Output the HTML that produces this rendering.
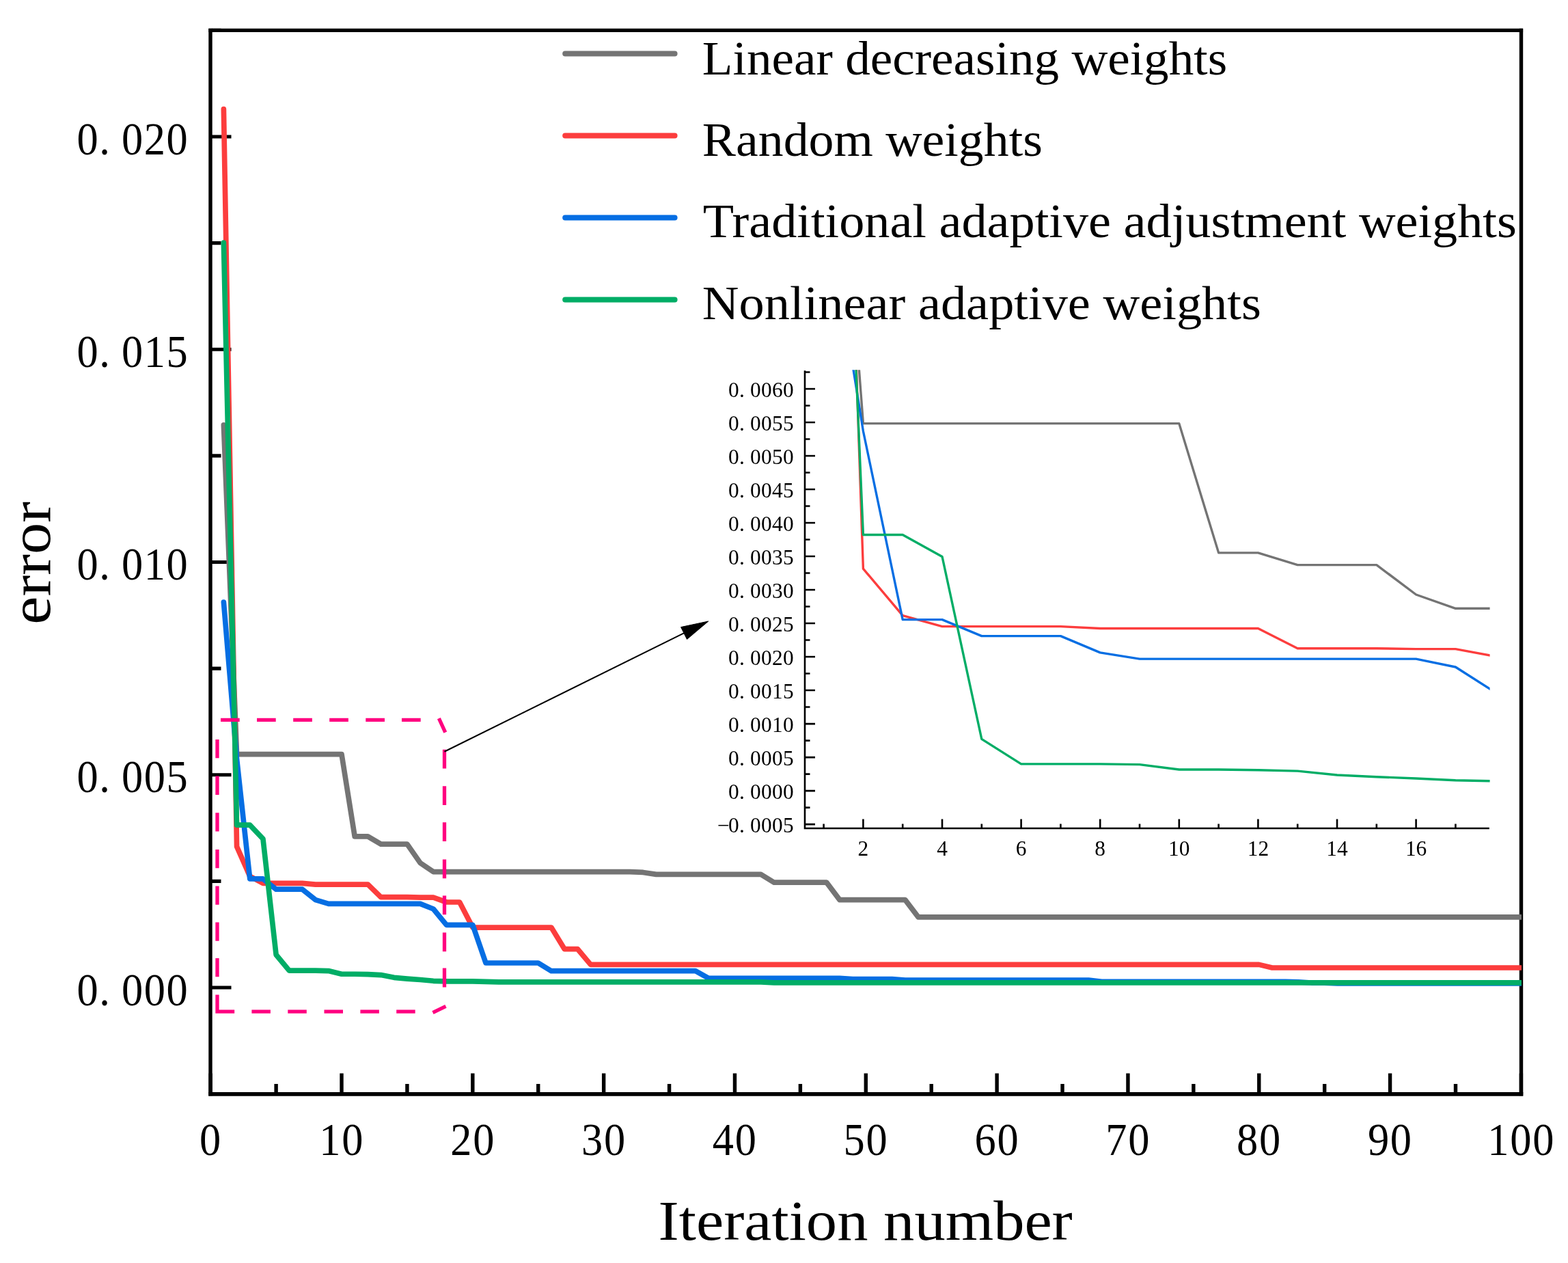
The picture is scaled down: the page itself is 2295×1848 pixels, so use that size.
<!DOCTYPE html><html><head><meta charset="utf-8"><title>Error vs iteration</title>
<style>html,body{margin:0;padding:0;background:#fff;}svg{display:block;}text{font-family:"Liberation Serif","Noto Serif CJK SC",serif;fill:#000;}</style></head><body>
<svg width="2295" height="1848" viewBox="0 0 2295 1848">
<rect x="0" y="0" width="2295" height="1848" fill="#fff"/>
<defs><clipPath id="cm"><rect x="300" y="20" width="1927" height="1580"/></clipPath><clipPath id="ci"><rect x="1178" y="541.2" width="1002.6" height="671"/></clipPath></defs>
<path d="M308,44.4 H2226.5" stroke="#000" stroke-width="5.2" fill="none" stroke-linecap="square"/><path d="M308,1600.9 H2226.5" stroke="#000" stroke-width="5.6" fill="none" stroke-linecap="square"/><path d="M308,44.4 V1600.6 M2226.5,44.4 V1600.6" stroke="#000" stroke-width="5.4" fill="none" stroke-linecap="square"/><path d="M310,1445.00H338.5M310,1133.75H338.5M310,822.50H338.5M310,511.25H338.5M310,200.00H338.5M310,1289.38H323.5M310,978.12H323.5M310,666.88H323.5M310,355.62H323.5M310,44.38H323.5" stroke="#000" stroke-width="5.2" fill="none"/><path d="M308.20,1600V1570.5M500.02,1600V1570.5M691.84,1600V1570.5M883.66,1600V1570.5M1075.48,1600V1570.5M1267.30,1600V1570.5M1459.12,1600V1570.5M1650.94,1600V1570.5M1842.76,1600V1570.5M2034.58,1600V1570.5M2226.40,1600V1570.5M404.11,1600V1586M595.93,1600V1586M787.75,1600V1586M979.57,1600V1586M1171.39,1600V1586M1363.21,1600V1586M1555.03,1600V1586M1746.85,1600V1586M1938.67,1600V1586M2130.49,1600V1586" stroke="#000" stroke-width="5.4" fill="none"/>
<g clip-path="url(#cm)" fill="none" stroke-width="7.7" stroke-linejoin="round" stroke-linecap="round">
<polyline stroke="#747474" points="327.38,621.93 346.56,1103.68 365.75,1103.68 384.93,1103.68 404.11,1103.68 423.29,1103.68 442.47,1103.68 461.66,1103.68 480.84,1103.68 500.02,1103.68 519.20,1223.83 538.38,1223.83 557.57,1235.09 576.75,1235.09 595.93,1235.09 615.11,1262.67 634.29,1275.56 653.48,1275.56 672.66,1275.56 691.84,1275.56 711.02,1275.56 730.20,1275.56 749.39,1275.56 768.57,1275.56 787.75,1275.56 806.93,1275.56 826.11,1275.56 845.30,1275.56 864.48,1275.56 883.66,1275.56 902.84,1275.56 922.02,1275.56 941.21,1276.43 960.39,1279.41 979.57,1279.41 998.75,1279.41 1017.93,1279.41 1037.12,1279.41 1056.30,1279.41 1075.48,1279.41 1094.66,1279.41 1113.84,1279.41 1133.03,1291.18 1152.21,1291.18 1171.39,1291.18 1190.57,1291.18 1209.75,1291.18 1228.94,1316.58 1248.12,1316.58 1267.30,1316.58 1286.48,1316.58 1305.66,1316.58 1324.85,1316.58 1344.03,1341.91 1363.21,1341.91 1382.39,1341.91 1401.57,1341.91 1420.76,1341.91 1439.94,1341.91 1459.12,1341.91 1478.30,1341.91 1497.48,1341.91 1516.67,1341.91 1535.85,1341.91 1555.03,1341.91 1574.21,1341.91 1593.39,1341.91 1612.58,1341.91 1631.76,1341.91 1650.94,1341.91 1670.12,1341.91 1689.30,1341.91 1708.49,1341.91 1727.67,1341.91 1746.85,1341.91 1766.03,1341.91 1785.21,1341.91 1804.40,1341.91 1823.58,1341.91 1842.76,1341.91 1861.94,1341.91 1881.12,1341.91 1900.31,1341.91 1919.49,1341.91 1938.67,1341.91 1957.85,1341.91 1977.03,1341.91 1996.22,1341.91 2015.40,1341.91 2034.58,1341.91 2053.76,1341.91 2072.94,1341.91 2092.13,1341.91 2111.31,1341.91 2130.49,1341.91 2149.67,1341.91 2168.85,1341.91 2188.04,1341.91 2207.22,1341.91 2226.40,1341.91"/>
<polyline stroke="#FC3D3D" points="327.38,159.60 346.56,1238.64 365.75,1282.09 384.93,1292.30 404.11,1292.30 423.29,1292.30 442.47,1292.30 461.66,1294.11 480.84,1294.11 500.02,1294.11 519.20,1294.11 538.38,1294.11 557.57,1312.72 576.75,1312.72 595.93,1312.72 615.11,1313.22 634.29,1313.22 653.48,1320.00 672.66,1320.00 691.84,1357.10 711.02,1357.10 730.20,1357.10 749.39,1357.10 768.57,1357.10 787.75,1357.10 806.93,1357.10 826.11,1388.60 845.30,1388.60 864.48,1411.38 883.66,1411.38 902.84,1411.38 922.02,1411.38 941.21,1411.38 960.39,1411.38 979.57,1411.38 998.75,1411.38 1017.93,1411.38 1037.12,1411.38 1056.30,1411.38 1075.48,1411.38 1094.66,1411.38 1113.84,1411.38 1133.03,1411.38 1152.21,1411.38 1171.39,1411.38 1190.57,1411.38 1209.75,1411.38 1228.94,1411.38 1248.12,1411.38 1267.30,1411.38 1286.48,1411.38 1305.66,1411.38 1324.85,1411.38 1344.03,1411.38 1363.21,1411.38 1382.39,1411.38 1401.57,1411.38 1420.76,1411.38 1439.94,1411.38 1459.12,1411.38 1478.30,1411.38 1497.48,1411.38 1516.67,1411.38 1535.85,1411.38 1555.03,1411.38 1574.21,1411.38 1593.39,1411.38 1612.58,1411.38 1631.76,1411.38 1650.94,1411.38 1670.12,1411.38 1689.30,1411.38 1708.49,1411.38 1727.67,1411.38 1746.85,1411.38 1766.03,1411.38 1785.21,1411.38 1804.40,1411.38 1823.58,1411.38 1842.76,1411.38 1861.94,1415.99 1881.12,1415.99 1900.31,1415.99 1919.49,1415.99 1938.67,1415.99 1957.85,1415.99 1977.03,1415.99 1996.22,1415.99 2015.40,1415.99 2034.58,1415.99 2053.76,1415.99 2072.94,1415.99 2092.13,1415.99 2111.31,1415.99 2130.49,1415.99 2149.67,1415.99 2168.85,1415.99 2188.04,1415.99 2207.22,1415.99 2226.40,1415.99"/>
<polyline stroke="#066EE3" points="327.38,881.01 346.56,1110.72 365.75,1285.95 384.93,1285.95 404.11,1301.20 423.29,1301.20 442.47,1301.20 461.66,1316.58 480.84,1322.43 500.02,1322.43 519.20,1322.43 538.38,1322.43 557.57,1322.43 576.75,1322.43 595.93,1322.43 615.11,1322.43 634.29,1329.96 653.48,1353.37 672.66,1353.37 691.84,1353.37 711.02,1409.02 730.20,1409.02 749.39,1409.02 768.57,1409.02 787.75,1409.02 806.93,1420.72 826.11,1420.72 845.30,1420.72 864.48,1420.72 883.66,1420.72 902.84,1420.72 922.02,1420.72 941.21,1420.72 960.39,1420.72 979.57,1420.72 998.75,1420.72 1017.93,1420.72 1037.12,1431.43 1056.30,1431.43 1075.48,1431.43 1094.66,1431.43 1113.84,1431.43 1133.03,1431.43 1152.21,1431.43 1171.39,1431.43 1190.57,1431.43 1209.75,1431.43 1228.94,1431.43 1248.12,1432.61 1267.30,1432.61 1286.48,1432.61 1305.66,1432.61 1324.85,1434.11 1344.03,1434.11 1363.21,1434.11 1382.39,1434.11 1401.57,1434.11 1420.76,1434.11 1439.94,1434.11 1459.12,1434.11 1478.30,1434.11 1497.48,1434.11 1516.67,1434.11 1535.85,1434.11 1555.03,1434.11 1574.21,1434.11 1593.39,1434.11 1612.58,1436.29 1631.76,1436.29 1650.94,1436.29 1670.12,1436.29 1689.30,1436.29 1708.49,1436.29 1727.67,1436.29 1746.85,1436.29 1766.03,1436.29 1785.21,1436.29 1804.40,1436.29 1823.58,1436.29 1842.76,1436.29 1861.94,1436.29 1881.12,1436.29 1900.31,1436.91 1919.49,1438.03 1938.67,1438.03 1957.85,1438.78 1977.03,1438.78 1996.22,1438.78 2015.40,1438.78 2034.58,1438.78 2053.76,1438.78 2072.94,1438.78 2092.13,1438.78 2111.31,1438.78 2130.49,1438.78 2149.67,1438.78 2168.85,1438.78 2188.04,1438.78 2207.22,1438.78 2226.40,1438.78"/>
<polyline stroke="#00AD66" points="327.38,355.19 346.56,1207.08 365.75,1207.08 384.93,1227.37 404.11,1396.94 423.29,1420.10 442.47,1420.10 461.66,1420.10 480.84,1420.54 500.02,1425.27 519.20,1425.27 538.38,1425.70 557.57,1426.57 576.75,1430.31 595.93,1432.05 615.11,1433.48 634.29,1435.29 653.48,1435.97 672.66,1435.97 691.84,1435.97 711.02,1436.47 730.20,1436.97 749.39,1436.97 768.57,1436.97 787.75,1436.97 806.93,1436.97 826.11,1436.97 845.30,1436.97 864.48,1436.97 883.66,1436.97 902.84,1436.97 922.02,1436.97 941.21,1436.97 960.39,1436.97 979.57,1436.97 998.75,1436.97 1017.93,1436.97 1037.12,1436.97 1056.30,1436.97 1075.48,1436.97 1094.66,1436.97 1113.84,1436.97 1133.03,1437.84 1152.21,1437.84 1171.39,1437.84 1190.57,1437.84 1209.75,1437.84 1228.94,1437.84 1248.12,1437.84 1267.30,1437.84 1286.48,1437.84 1305.66,1437.84 1324.85,1437.84 1344.03,1437.84 1363.21,1437.84 1382.39,1437.84 1401.57,1437.84 1420.76,1437.84 1439.94,1437.84 1459.12,1437.84 1478.30,1437.84 1497.48,1437.84 1516.67,1437.84 1535.85,1437.84 1555.03,1437.84 1574.21,1437.84 1593.39,1437.84 1612.58,1437.84 1631.76,1437.84 1650.94,1437.84 1670.12,1437.84 1689.30,1437.84 1708.49,1437.84 1727.67,1437.84 1746.85,1437.84 1766.03,1437.84 1785.21,1437.84 1804.40,1437.84 1823.58,1437.84 1842.76,1437.84 1861.94,1437.84 1881.12,1437.84 1900.31,1437.84 1919.49,1437.84 1938.67,1437.84 1957.85,1437.84 1977.03,1437.84 1996.22,1437.84 2015.40,1437.84 2034.58,1437.84 2053.76,1437.84 2072.94,1437.84 2092.13,1437.84 2111.31,1437.84 2130.49,1437.84 2149.67,1437.84 2168.85,1437.84 2188.04,1437.84 2207.22,1437.84 2226.40,1437.84"/>
</g>
<text transform="translate(112.43,1470.60) scale(0.935,1)" x="0.00 35.08 70.16 105.24 140.32" y="0" font-size="66.80">0.000</text>
<text transform="translate(112.43,1159.35) scale(0.935,1)" x="0.00 35.08 70.16 105.24 140.32" y="0" font-size="66.80">0.005</text>
<text transform="translate(112.43,848.10) scale(0.935,1)" x="0.00 35.08 70.16 105.24 140.32" y="0" font-size="66.80">0.010</text>
<text transform="translate(112.43,536.85) scale(0.935,1)" x="0.00 35.08 70.16 105.24 140.32" y="0" font-size="66.80">0.015</text>
<text transform="translate(112.43,225.60) scale(0.935,1)" x="0.00 35.08 70.16 105.24 140.32" y="0" font-size="66.80">0.020</text>
<text transform="translate(292.00,1690.00) scale(0.935,1)" x="0.00" y="0" font-size="66.80">0</text>
<text transform="translate(467.32,1690.00) scale(0.935,1)" x="0.00 35.29" y="0" font-size="66.80">10</text>
<text transform="translate(659.14,1690.00) scale(0.935,1)" x="0.00 35.29" y="0" font-size="66.80">20</text>
<text transform="translate(850.96,1690.00) scale(0.935,1)" x="0.00 35.29" y="0" font-size="66.80">30</text>
<text transform="translate(1042.78,1690.00) scale(0.935,1)" x="0.00 35.29" y="0" font-size="66.80">40</text>
<text transform="translate(1234.60,1690.00) scale(0.935,1)" x="0.00 35.29" y="0" font-size="66.80">50</text>
<text transform="translate(1426.42,1690.00) scale(0.935,1)" x="0.00 35.29" y="0" font-size="66.80">60</text>
<text transform="translate(1618.24,1690.00) scale(0.935,1)" x="0.00 35.29" y="0" font-size="66.80">70</text>
<text transform="translate(1810.06,1690.00) scale(0.935,1)" x="0.00 35.29" y="0" font-size="66.80">80</text>
<text transform="translate(2001.88,1690.00) scale(0.935,1)" x="0.00 35.29" y="0" font-size="66.80">90</text>
<text transform="translate(2177.20,1690.00) scale(0.935,1)" x="0.00 35.29 70.59" y="0" font-size="66.80">100</text>
<text x="963.63" y="1814.30" font-size="83.50" textLength="606.17" lengthAdjust="spacingAndGlyphs">Iteration number</text>
<g transform="translate(73.3,0) rotate(-90)"><text x="-913.72" y="0.00" font-size="84.00" textLength="179.93" lengthAdjust="spacingAndGlyphs">error</text></g>
<line x1="827.2" y1="78.50" x2="987.6" y2="78.50" stroke="#747474" stroke-width="8" stroke-linecap="round"/>
<text x="1027.89" y="108.80" font-size="69.50" textLength="768.25" lengthAdjust="spacingAndGlyphs">Linear decreasing weights</text>
<line x1="827.2" y1="198.50" x2="987.6" y2="198.50" stroke="#FC3D3D" stroke-width="8" stroke-linecap="round"/>
<text x="1027.77" y="228.40" font-size="69.50" textLength="498.09" lengthAdjust="spacingAndGlyphs">Random weights</text>
<line x1="827.2" y1="318.50" x2="987.6" y2="318.50" stroke="#066EE3" stroke-width="8" stroke-linecap="round"/>
<text x="1028.76" y="347.20" font-size="69.50" textLength="1191.11" lengthAdjust="spacingAndGlyphs">Traditional adaptive adjustment weights</text>
<line x1="827.2" y1="438.50" x2="987.6" y2="438.50" stroke="#00AD66" stroke-width="8" stroke-linecap="round"/>
<text x="1027.86" y="467.00" font-size="69.50" textLength="818.03" lengthAdjust="spacingAndGlyphs">Nonlinear adaptive weights</text>
<path d="M323.00,1053.45L350.70,1053.45M376.00,1053.45L403.70,1053.45M429.20,1053.45L456.90,1053.45M482.20,1053.45L509.90,1053.45M535.30,1053.45L563.00,1053.45M588.00,1053.45L615.70,1053.45M642.40,1051.10L651.80,1071.60M650.50,1096.70L650.50,1124.50M650.50,1150.20L650.50,1178.00M650.50,1203.20L650.50,1231.00M650.50,1257.40L650.50,1285.20M650.50,1310.40L650.50,1338.20M650.50,1364.50L650.50,1392.30M650.50,1416.60L650.50,1444.40M652.50,1472.30L633.50,1481.60M368.40,1480.20L395.90,1480.20M421.30,1480.20L448.80,1480.20M474.50,1480.20L502.00,1480.20M527.40,1480.20L554.90,1480.20M580.20,1480.20L607.70,1480.20M318.00,1082.00L318.00,1109.30M318.00,1135.60L318.00,1162.90M318.00,1189.20L318.00,1216.50M318.00,1243.00L318.00,1270.30M318.00,1296.50L318.00,1323.80M318.00,1349.50L318.00,1376.80M318.00,1402.00L318.00,1429.30M318,1455.5V1480.2H343.2" stroke="#FF0080" stroke-width="5.30" fill="none" stroke-linejoin="miter"/>
<line x1="650.5" y1="1099.8" x2="1001" y2="926.4" stroke="#000" stroke-width="2.1"/>
<polygon points="1036.8,909 996.6,917.6 1005.5,935.4" fill="#000" stroke="#000" stroke-width="1" stroke-linejoin="round"/>
<g clip-path="url(#ci)" fill="none" stroke-width="3.4" stroke-linejoin="round" stroke-linecap="butt">
<polyline stroke="#747474" points="1205.60,-138.92 1263.40,619.66 1321.20,619.66 1379.00,619.66 1436.80,619.66 1494.60,619.66 1552.40,619.66 1610.20,619.66 1668.00,619.66 1725.80,619.66 1783.60,808.83 1841.40,808.83 1899.20,826.58 1957.00,826.58 2014.80,826.58 2072.60,870.00 2130.40,890.29 2188.20,890.29 2246.00,890.29"/>
<polyline stroke="#FC3D3D" points="1205.60,-866.91 1263.40,832.16 1321.20,900.58 1379.00,916.66 1436.80,916.66 1494.60,916.66 1552.40,916.66 1610.20,919.50 1668.00,919.50 1725.80,919.50 1783.60,919.50 1841.40,919.50 1899.20,948.81 1957.00,948.81 2014.80,948.81 2072.60,949.59 2130.40,949.59 2188.20,960.28 2246.00,960.28"/>
<polyline stroke="#066EE3" points="1205.60,269.04 1263.40,630.73 1321.20,906.66 1379.00,906.66 1436.80,930.67 1494.60,930.67 1552.40,930.67 1610.20,954.88 1668.00,964.10 1725.80,964.10 1783.60,964.10 1841.40,964.10 1899.20,964.10 1957.00,964.10 2014.80,964.10 2072.60,964.10 2130.40,975.96 2188.20,1012.81 2246.00,1012.81"/>
<polyline stroke="#00AD66" points="1205.60,-558.94 1263.40,782.47 1321.20,782.47 1379.00,814.42 1436.80,1081.43 1494.60,1117.89 1552.40,1117.89 1610.20,1117.89 1668.00,1118.58 1725.80,1126.03 1783.60,1126.03 1841.40,1126.71 1899.20,1128.09 1957.00,1133.97 2014.80,1136.71 2072.60,1138.97 2130.40,1141.81 2188.20,1142.89 2246.00,1142.89"/>
</g>
<path d="M1178,542.3V1212H2179.8" stroke="#000" stroke-width="2.6" fill="none" stroke-linecap="butt"/><path d="M1178,1206.11H1193M1178,1157.10H1193M1178,1108.09H1193M1178,1059.08H1193M1178,1010.07H1193M1178,961.06H1193M1178,912.05H1193M1178,863.04H1193M1178,814.03H1193M1178,765.02H1193M1178,716.01H1193M1178,667.00H1193M1178,617.99H1193M1178,568.98H1193M1178,1181.61H1185.5M1178,1132.59H1185.5M1178,1083.58H1185.5M1178,1034.57H1185.5M1178,985.56H1185.5M1178,936.55H1185.5M1178,887.54H1185.5M1178,838.53H1185.5M1178,789.52H1185.5M1178,740.51H1185.5M1178,691.50H1185.5M1178,642.49H1185.5M1178,593.48H1185.5M1178,544.47H1185.5M1263.40,1212V1198.5M1379.00,1212V1198.5M1494.60,1212V1198.5M1610.20,1212V1198.5M1725.80,1212V1198.5M1841.40,1212V1198.5M1957.00,1212V1198.5M2072.60,1212V1198.5M1205.60,1212V1205.5M1321.20,1212V1205.5M1436.80,1212V1205.5M1552.40,1212V1205.5M1668.00,1212V1205.5M1783.60,1212V1205.5M1899.20,1212V1205.5M2014.80,1212V1205.5M2130.40,1212V1205.5" stroke="#000" stroke-width="2.6" fill="none"/>
<text transform="translate(1050.10,1217.71) scale(1.000,1)" x="0.00 16.00 32.00 48.00 64.00 80.00 96.00" y="0" font-size="31.40">−0.0005</text>
<text transform="translate(1066.10,1168.70) scale(1.000,1)" x="0.00 16.00 32.00 48.00 64.00 80.00" y="0" font-size="31.40">0.0000</text>
<text transform="translate(1066.10,1119.69) scale(1.000,1)" x="0.00 16.00 32.00 48.00 64.00 80.00" y="0" font-size="31.40">0.0005</text>
<text transform="translate(1066.10,1070.68) scale(1.000,1)" x="0.00 16.00 32.00 48.00 64.00 80.00" y="0" font-size="31.40">0.0010</text>
<text transform="translate(1066.10,1021.67) scale(1.000,1)" x="0.00 16.00 32.00 48.00 64.00 80.00" y="0" font-size="31.40">0.0015</text>
<text transform="translate(1066.10,972.66) scale(1.000,1)" x="0.00 16.00 32.00 48.00 64.00 80.00" y="0" font-size="31.40">0.0020</text>
<text transform="translate(1066.10,923.65) scale(1.000,1)" x="0.00 16.00 32.00 48.00 64.00 80.00" y="0" font-size="31.40">0.0025</text>
<text transform="translate(1066.10,874.64) scale(1.000,1)" x="0.00 16.00 32.00 48.00 64.00 80.00" y="0" font-size="31.40">0.0030</text>
<text transform="translate(1066.10,825.63) scale(1.000,1)" x="0.00 16.00 32.00 48.00 64.00 80.00" y="0" font-size="31.40">0.0035</text>
<text transform="translate(1066.10,776.62) scale(1.000,1)" x="0.00 16.00 32.00 48.00 64.00 80.00" y="0" font-size="31.40">0.0040</text>
<text transform="translate(1066.10,727.61) scale(1.000,1)" x="0.00 16.00 32.00 48.00 64.00 80.00" y="0" font-size="31.40">0.0045</text>
<text transform="translate(1066.10,678.60) scale(1.000,1)" x="0.00 16.00 32.00 48.00 64.00 80.00" y="0" font-size="31.40">0.0050</text>
<text transform="translate(1066.10,629.59) scale(1.000,1)" x="0.00 16.00 32.00 48.00 64.00 80.00" y="0" font-size="31.40">0.0055</text>
<text transform="translate(1066.10,580.58) scale(1.000,1)" x="0.00 16.00 32.00 48.00 64.00 80.00" y="0" font-size="31.40">0.0060</text>
<text x="1263.40" y="1251.6" font-size="31.40" text-anchor="middle">2</text>
<text x="1379.00" y="1251.6" font-size="31.40" text-anchor="middle">4</text>
<text x="1494.60" y="1251.6" font-size="31.40" text-anchor="middle">6</text>
<text x="1610.20" y="1251.6" font-size="31.40" text-anchor="middle">8</text>
<text x="1725.80" y="1251.6" font-size="31.40" text-anchor="middle">10</text>
<text x="1841.40" y="1251.6" font-size="31.40" text-anchor="middle">12</text>
<text x="1957.00" y="1251.6" font-size="31.40" text-anchor="middle">14</text>
<text x="2072.60" y="1251.6" font-size="31.40" text-anchor="middle">16</text>
</svg></body></html>
